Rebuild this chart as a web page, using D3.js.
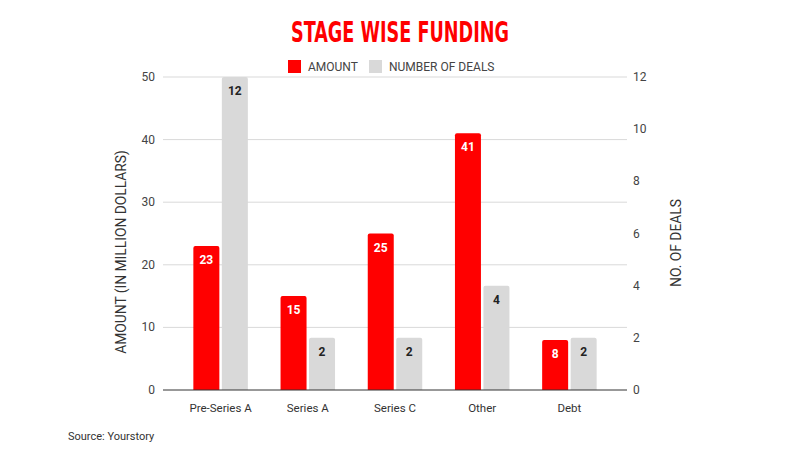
<!DOCTYPE html>
<html lang="en">
<head>
    <meta charset="UTF-8">
    <title>Stage Wise Funding</title>
    <script src="https://d3js.org/d3.v7.min.js"></script>
    <style>
        body { margin: 0; background: #fff; }
        text { font-family: Roboto, "Liberation Sans", Arial, sans-serif; }
        .tick-label { font-size: 12px; fill: #444; }
        .axis-title { font-size: 13.8px; fill: #333; }
    </style>
</head>
<body>
    <svg width="800" height="450"></svg>
    <script>
        // Chart data
        const stages = ["Pre-Series A", "Series A", "Series C", "Other", "Debt"];
        const amounts = [23, 15, 25, 41, 8];
        const deals = [12, 2, 2, 4, 2];
        const amountTicks = [0, 10, 20, 30, 40, 50];
        const dealTicks = [0, 2, 4, 6, 8, 10, 12];

        const svg = d3.select("svg");

        const gridLeft = 163, gridRight = 627;
        const plotTop = 77, plotBottom = 390;

        const x = d3.scaleBand().domain(stages).range([177, 613]).paddingInner(0).paddingOuter(0);
        const yLeft = d3.scaleLinear().domain([0, 50]).range([plotBottom, plotTop]);
        const yRight = d3.scaleLinear().domain([0, 12]).range([plotBottom, plotTop]);

        const barW = 26, gap = 2.5;

        // Title
        svg.append("text")
            .attr("x", 400).attr("y", 42)
            .attr("text-anchor", "middle")
            .attr("textLength", 218)
            .attr("lengthAdjust", "spacingAndGlyphs")
            .style("font-family", "'Liberation Sans Narrow', 'DejaVu Sans Condensed', sans-serif")
            .style("font-weight", "bold")
            .style("font-size", "29px")
            .style("fill", "#ff0000")
            .text("STAGE WISE FUNDING");

        // Legend
        const legend = [
            { label: "AMOUNT", color: "#ff0000", x: 288 },
            { label: "NUMBER OF DEALS", color: "#d9d9d9", x: 369 }
        ];
        legend.forEach(l => {
            svg.append("rect").attr("x", l.x).attr("y", 60).attr("width", 13).attr("height", 13).attr("fill", l.color);
            svg.append("text").attr("x", l.x + 20).attr("y", 71)
                .style("font-size", "12px").style("fill", "#444").text(l.label);
        });

        // Gridlines (left axis)
        svg.selectAll(".grid").data(amountTicks.filter(d => d > 0)).enter()
            .append("line")
            .attr("x1", gridLeft).attr("x2", gridRight)
            .attr("y1", d => yLeft(d)).attr("y2", d => yLeft(d))
            .attr("stroke", "#d9d9d9").attr("stroke-width", 1);

        // Left tick labels
        svg.selectAll(".lt").data(amountTicks).enter()
            .append("text").attr("class", "tick-label")
            .attr("x", 155).attr("y", d => yLeft(d) + 4)
            .attr("text-anchor", "end")
            .text(d => d);

        // Right tick labels
        svg.selectAll(".rt").data(dealTicks).enter()
            .append("text").attr("class", "tick-label")
            .attr("x", 633).attr("y", d => yRight(d) + 4)
            .text(d => d);

        function topRoundedBar(x0, y0, w, h, r) {
            r = Math.min(r, h);
            return `M${x0},${y0 + h}V${y0 + r}Q${x0},${y0} ${x0 + r},${y0}H${x0 + w - r}Q${x0 + w},${y0} ${x0 + w},${y0 + r}V${y0 + h}Z`;
        }

        // Bars and value labels
        const groupW = barW * 2 + gap;
        stages.forEach((s, i) => {
            const gx = x(s) + x.bandwidth() / 2 - groupW / 2;
            const ya = yLeft(amounts[i]);
            svg.append("path")
                .attr("d", topRoundedBar(gx, ya, barW, plotBottom - ya, 2))
                .attr("fill", "#ff0000");
            svg.append("text")
                .attr("x", gx + barW / 2).attr("y", ya + 18)
                .attr("text-anchor", "middle")
                .style("font-size", "12px").style("font-weight", "bold").style("fill", "#fff")
                .text(amounts[i]);

            const gx2 = gx + barW + gap;
            const yd = yRight(deals[i]);
            svg.append("path")
                .attr("d", topRoundedBar(gx2, yd, barW, plotBottom - yd, 2))
                .attr("fill", "#d9d9d9");
            svg.append("text")
                .attr("x", gx2 + barW / 2).attr("y", yd + 18)
                .attr("text-anchor", "middle")
                .style("font-size", "12px").style("font-weight", "bold").style("fill", "#222")
                .text(deals[i]);
        });

        // Baseline
        svg.append("line")
            .attr("x1", gridLeft).attr("x2", gridRight)
            .attr("y1", plotBottom).attr("y2", plotBottom)
            .attr("stroke", "#333").attr("stroke-width", 1);

        // X labels
        svg.selectAll(".xl").data(stages).enter()
            .append("text").attr("class", "tick-label")
            .attr("x", d => x(d) + x.bandwidth() / 2).attr("y", 412)
            .attr("text-anchor", "middle")
            .style("font-size", "11.5px")
            .style("fill", "#333")
            .text(d => d);

        // Axis titles
        svg.append("text").attr("class", "axis-title")
            .attr("transform", "translate(126,252) rotate(-90)")
            .attr("text-anchor", "middle")
            .text("AMOUNT (IN MILLION DOLLARS)");
        svg.append("text").attr("class", "axis-title")
            .attr("transform", "translate(681,243) rotate(-90)")
            .attr("text-anchor", "middle")
            .text("NO. OF DEALS");

        // Source
        svg.append("text")
            .attr("x", 68).attr("y", 440)
            .style("font-size", "11px").style("fill", "#333")
            .text("Source: Yourstory");
    </script>
</body>
</html>
